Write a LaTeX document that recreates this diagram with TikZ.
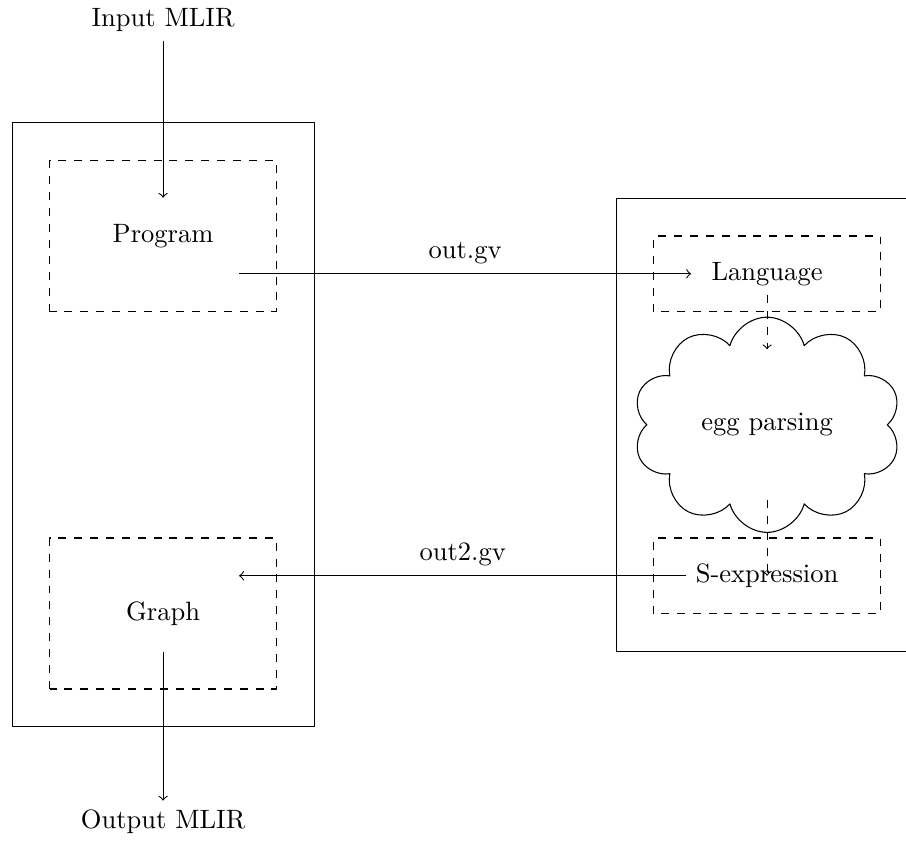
\documentclass[tikz,border=0pt]{standalone}
\usetikzlibrary{shapes.symbols}
\begin{document}
\begin{tikzpicture}[line join = round, >=to, stage/.style={minimum width=2cm}, stagebig/.style={minimum width=2cm, minimum height=1cm}]
	\useasboundingbox (-2.16,-8.04) rectangle (9.84,3.126);
	% left side
	\draw (-2,-6.5) rectangle (2,1.5);
	\draw[dashed] (-1.5,-1) rectangle (1.5,1);
	\draw[dashed] (-1.5,-6) rectangle (1.5,-4);
	\node (in) at (0,2.86) {Input MLIR};
	\node[stagebig] (prog) at (0,0) {Program};
	\node[stagebig] (graph) at (0,-5) {Graph};
	\node (out) at (0,-7.76) {Output MLIR};
	% right side
	\draw (6,-5.5) rectangle (10,0.5);
	\draw[dashed] (6.5,-1) rectangle (9.5,0);
	\draw[dashed] (6.5,-5) rectangle (9.5,-4);
	\node[stage] (lang) at (8,-0.5) {Language};
	\node[cloud, draw, cloud puffs=10, cloud puff arc=150, cloud ignores aspect, minimum width=3.55cm, minimum height=2.85cm] (egg) at (8,-2.5) {egg parsing};
	\node[stage] (sexp) at (8,-4.5) {S-expression};
	% arrows
	\draw[->] (in) -- (prog);
	\draw[->] (prog.east |- lang) -- node[above]{out.gv} (lang);
	\draw[->, dashed, shorten >=1cm] (lang) -- (egg.center);
	\draw[->, dashed, shorten <=1cm] (egg.center) -- (sexp.center);
	\draw[->] (sexp) -- node[above]{out2.gv} (graph.east |- sexp);
	\draw[->] (graph) -- (out);
\end{tikzpicture}
\end{document}
